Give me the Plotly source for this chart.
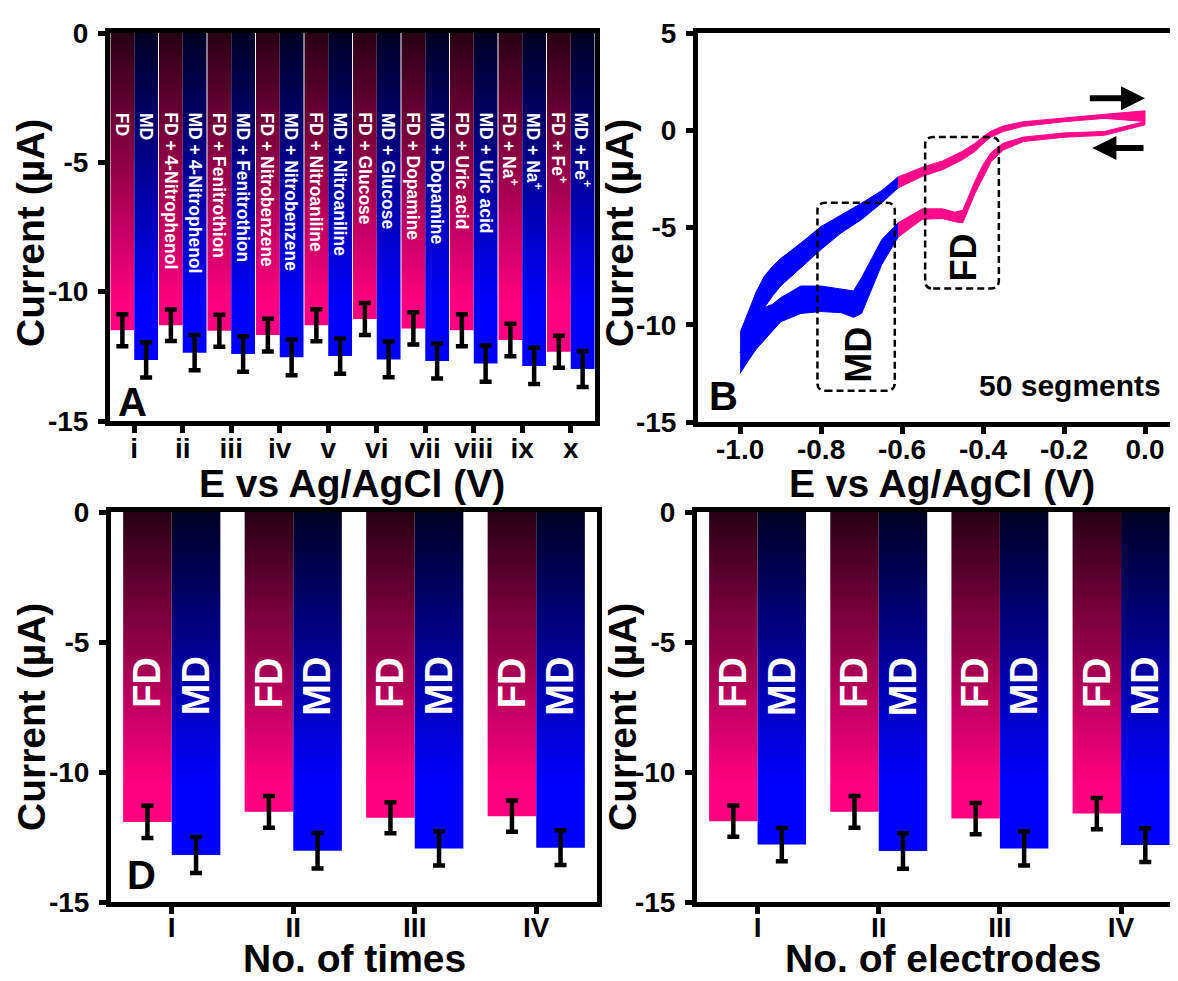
import plotly.graph_objects as go

# page body has an 8px margin, so the figure is 8px smaller on each axis and all
# reference pixel positions are shifted by 8px
OFF = 8
W, H = 1178 - OFF, 981 - OFF

# ---------------- Panel A : interference study ----------------
cats_A = ["i", "ii", "iii", "iv", "v", "vi", "vii", "viii", "ix", "x"]
fd_A = [-11.49, -11.30, -11.51, -11.68, -11.30, -11.06, -11.42, -11.49, -11.87, -12.32]
md_A = [-12.64, -12.36, -12.41, -12.54, -12.49, -12.62, -12.68, -12.78, -12.87, -12.99]
fd_A_err = [0.62, 0.61, 0.62, 0.63, 0.62, 0.62, 0.62, 0.62, 0.63, 0.62]
md_A_err = [0.68, 0.68, 0.69, 0.69, 0.68, 0.69, 0.68, 0.70, 0.70, 0.70]
fd_A_text = ["FD", "FD + 4-Nitrophenol", "FD + Fenitrothion", "FD + Nitrobenzene",
             "FD + Nitroaniline", "FD + Glucose", "FD + Dopamine", "FD + Uric acid",
             "FD + Na<sup>+</sup>", "FD + Fe<sup>+</sup>"]
md_A_text = ["MD", "MD + 4-Nitrophenol", "MD + Fenitrothion", "MD + Nitrobenzene",
             "MD + Nitroaniline", "MD + Glucose", "MD + Dopamine", "MD + Uric acid",
             "MD + Na<sup>+</sup>", "MD + Fe<sup>+</sup>"]

# ---------------- Panel B : CV, 50 segments (envelopes of the band) ----------------
E_an = [-1.00, -0.98, -0.96, -0.94, -0.92, -0.90, -0.85, -0.80, -0.75, -0.70, -0.65, -0.61,
        -0.55, -0.50, -0.45, -0.42, -0.40, -0.38, -0.35, -0.30, -0.20, -0.10, 0.00]
an_outer = [-10.40, -9.30, -8.30, -7.50, -7.00, -6.60, -5.80, -4.95, -4.35, -3.75, -3.10, -2.40,
            -1.90, -1.58, -1.07, -0.67, -0.33, -0.04, 0.22, 0.44, 0.64, 0.82, 1.00]
an_inner = [-11.43, -10.74, -10.06, -9.12, -8.52, -8.01, -7.07, -6.13, -5.27, -4.59, -3.73, -2.97,
            -2.37, -2.03, -1.51, -1.09, -0.69, -0.35, -0.06, 0.20, 0.44, 0.61, 0.45]
E_ca = [-1.00, -0.98, -0.96, -0.94, -0.92, -0.90, -0.85, -0.80, -0.75, -0.72, -0.70, -0.65, -0.61,
        -0.55, -0.50, -0.47, -0.45, -0.42, -0.40, -0.38, -0.35, -0.30, -0.20, -0.10, 0.00]
ca_upper = [-11.43, -10.74, -10.06, -9.12, -8.95, -8.61, -8.01, -8.01, -8.18, -8.26, -7.58, -5.62, -4.76,
            -4.04, -4.04, -4.21, -4.11, -2.62, -1.77, -1.14, -0.66, -0.35, -0.14, -0.06, 0.45]
ca_lower = [-12.50, -11.85, -11.25, -10.75, -10.30, -9.85, -9.42, -9.32, -9.38, -9.62, -9.42, -6.90, -5.50,
            -4.58, -4.54, -4.70, -4.76, -3.25, -2.40, -1.62, -1.02, -0.58, -0.36, -0.26, 0.28]
E_split = -0.61  # colour change MD (blue) / FD (pink)

# ---------------- Panel D : repeatability (No. of times) ----------------
cats_D = ["I", "II", "III", "IV"]
fd_D = [-11.92, -11.53, -11.76, -11.70]
md_D = [-13.19, -13.03, -12.94, -12.91]
fd_D_err = [0.62, 0.61, 0.60, 0.60]
md_D_err = [0.69, 0.68, 0.66, 0.67]

# ---------------- Panel C : reproducibility (No. of electrodes) ----------------
cats_C = ["I", "II", "III", "IV"]
fd_C = [-11.89, -11.53, -11.79, -11.60]
md_C = [-12.79, -13.04, -12.94, -12.81]
fd_C_err = [0.60, 0.61, 0.60, 0.60]
md_C_err = [0.64, 0.68, 0.66, 0.65]

FONT = "Liberation Sans, Arial, sans-serif"
PINK = "rgb(255,0,128)"
BLUE = "rgb(0,0,255)"
FD_SCALE = [[0, PINK], [0.13, PINK], [1, "rgb(40,0,18)"]]
MD_SCALE = [[0, BLUE], [0.13, BLUE], [1, "rgb(0,0,35)"]]
CV_PINK = "#ff0a8a"


def px(x):
    return (x - OFF) / W


def py(y):
    return 1 - (y - OFF) / H


fig = go.Figure()


def add_bars(vals, errs, offset, width, scale, xa, ya):
    xs, ys, cx = [], [], []
    for k, v in enumerate(vals):
        x0 = k + offset
        x1 = x0 + width
        xs += [x0, x0, x1, x1, x0, None]
        ys += [0, v, v, 0, 0, None]
        cx.append((x0 + x1) / 2)
    fig.add_trace(go.Scatter(
        x=xs, y=ys, mode="lines", fill="toself",
        line=dict(width=0, color="rgba(0,0,0,0)"),
        fillgradient=dict(type="vertical", colorscale=scale, start=-12, stop=0),
        xaxis=xa, yaxis=ya, hoverinfo="skip", showlegend=False))
    fig.add_trace(go.Scatter(
        x=cx, y=vals, mode="markers", marker=dict(size=1, color="rgba(0,0,0,0)"),
        error_y=dict(type="data", array=errs, symmetric=True, color="black",
                     thickness=4.5, width=6),
        xaxis=xa, yaxis=ya, showlegend=False))
    return cx


cxA_fd = add_bars(fd_A, fd_A_err, -0.49, 0.49, FD_SCALE, "x", "y")
cxA_md = add_bars(md_A, md_A_err, 0.0, 0.49, MD_SCALE, "x", "y")
cxD_fd = add_bars(fd_D, fd_D_err, -0.40, 0.40, FD_SCALE, "x3", "y3")
cxD_md = add_bars(md_D, md_D_err, 0.0, 0.40, MD_SCALE, "x3", "y3")
cxC_fd = add_bars(fd_C, fd_C_err, -0.40, 0.40, FD_SCALE, "x4", "y4")
cxC_md = add_bars(md_C, md_C_err, 0.0, 0.40, MD_SCALE, "x4", "y4")


def band(E, top, bot, blue_part):
    idx = [i for i, e in enumerate(E) if (e <= E_split + 1e-9 if blue_part else e >= E_split - 1e-9)]
    xs = [E[i] for i in idx] + [E[i] for i in reversed(idx)]
    ys = [top[i] for i in idx] + [bot[i] for i in reversed(idx)]
    col = BLUE if blue_part else CV_PINK
    fig.add_trace(go.Scatter(x=xs, y=ys, mode="lines", fill="toself", fillcolor=col,
                             line=dict(width=1, color=col), xaxis="x2", yaxis="y2",
                             hoverinfo="skip", showlegend=False))


band(E_an, an_outer, an_inner, True)
band(E_an, an_outer, an_inner, False)
band(E_ca, ca_upper, ca_lower, True)
band(E_ca, ca_upper, ca_lower, False)

# ---------------- Layout ----------------
tickfont = dict(family=FONT, size=28, color="black", weight="bold")
base = dict(showline=True, linewidth=5, linecolor="black", ticks="outside", ticklen=7,
            tickwidth=4.5, tickcolor="black", tickfont=tickfont, showgrid=False,
            zeroline=False, fixedrange=True, automargin=False)

ybar_ticks = dict(tickmode="array", tickvals=[0, -5, -10, -15], ticktext=["0", "-5", "-10", "-15"])
XSO = -9
XSO_BOTTOM = -11

fig.update_layout(
    template="none",
    width=W, height=H, margin=dict(l=0, r=0, t=0, b=0, pad=0, autoexpand=False),
    paper_bgcolor="white", plot_bgcolor="white", showlegend=False,
    font=dict(family=FONT, color="black"),
    xaxis=dict(base, domain=[px(110), px(595)], range=[-0.5, 9.5], mirror=True,
               tickmode="array", tickvals=list(range(len(cats_A))), ticktext=cats_A,
               anchor="y", ticklabelstandoff=XSO),
    yaxis=dict(base, domain=[py(421), py(33)], range=[-15, 0], mirror=True, anchor="x",
               ticklabelstandoff=4, **ybar_ticks),
    xaxis2=dict(base, domain=[px(698), 1.0], range=[-1.104, 0.0815], mirror=True, anchor="y2",
                tickmode="array", tickvals=[-1.0, -0.8, -0.6, -0.4, -0.2, 0.0],
                ticktext=["-1.0", "-0.8", "-0.6", "-0.4", "-0.2", "0.0"], ticklabelstandoff=XSO),
    yaxis2=dict(base, domain=[py(422), py(33)], range=[-15, 5], mirror=False, anchor="x2",
                tickmode="array", tickvals=[5, 0, -5, -10, -15],
                ticktext=["5", "0", "-5", "-10", "-15"], ticklabelstandoff=4),
    xaxis3=dict(base, domain=[px(111), px(597)], range=[-0.5, 3.5], mirror=True, anchor="y3",
                tickmode="array", tickvals=list(range(len(cats_D))), ticktext=cats_D,
                ticklabelstandoff=XSO_BOTTOM),
    yaxis3=dict(base, domain=[py(902), py(512)], range=[-15, 0], mirror=True, anchor="x3",
                ticklabelstandoff=4, **ybar_ticks),
    xaxis4=dict(base, domain=[px(697), 1.0], range=[-0.5, 3.47], mirror=True, anchor="y4",
                tickmode="array", tickvals=list(range(len(cats_C))), ticktext=cats_C,
                ticklabelstandoff=XSO_BOTTOM),
    yaxis4=dict(base, domain=[py(902), py(512)], range=[-15, 0], mirror=False, anchor="x4",
                ticklabelstandoff=4, **ybar_ticks),
)

ann = []
white_small = dict(family=FONT, size=17.5, color="white", weight="bold")
for k in range(len(cats_A)):
    ann.append(dict(x=cxA_fd[k], y=-3.0, xref="x", yref="y", text=fd_A_text[k], showarrow=False,
                    textangle=90, xanchor="center", yanchor="top", font=white_small))
    ann.append(dict(x=cxA_md[k], y=-3.0, xref="x", yref="y", text=md_A_text[k], showarrow=False,
                    textangle=90, xanchor="center", yanchor="top", font=white_small))

white_big = dict(family=FONT, size=38, color="white", weight="bold")
for cxf, cxm, xr, yr in [(cxD_fd, cxD_md, "x3", "y3"), (cxC_fd, cxC_md, "x4", "y4")]:
    for k in range(4):
        ann.append(dict(x=cxf[k], y=-6.55, xref=xr, yref=yr, text="FD", showarrow=False,
                        textangle=-90, xanchor="center", yanchor="middle", font=white_big))
        ann.append(dict(x=cxm[k], y=-6.7, xref=xr, yref=yr, text="MD", showarrow=False,
                        textangle=-90, xanchor="center", yanchor="middle", font=white_big))

black_mid = dict(family=FONT, size=36, color="black", weight="bold")
ann.append(dict(x=-0.707, y=-11.55, xref="x2", yref="y2", text="MD", showarrow=False,
                textangle=-90, xanchor="center", yanchor="middle", font=black_mid))
ann.append(dict(x=-0.448, y=-6.56, xref="x2", yref="y2", text="FD", showarrow=False,
                textangle=-90, xanchor="center", yanchor="middle", font=black_mid))
ann.append(dict(x=-0.186, y=-13.1, xref="x2", yref="y2", text="50 segments", showarrow=False,
                xanchor="center", yanchor="middle",
                font=dict(family=FONT, size=30, color="black", weight="bold")))
# scan direction arrows
ann.append(dict(x=0.0, y=1.65, ax=-0.14, ay=1.65, xref="x2", yref="y2", axref="x2", ayref="y2",
                text="", showarrow=True, arrowhead=2, arrowsize=0.8, arrowwidth=6,
                arrowcolor="black", standoff=0))
ann.append(dict(x=-0.13, y=-0.91, ax=0.0, ay=-0.91, xref="x2", yref="y2", axref="x2", ayref="y2",
                text="", showarrow=True, arrowhead=2, arrowsize=0.8, arrowwidth=6,
                arrowcolor="black", standoff=0))

title_font = dict(family=FONT, size=39, color="black", weight="bold")
titles = [
    ("Current (µA)", 31, 233, -90), ("E vs Ag/AgCl (V)", 352, 483, 0),
    ("Current (µA)", 620, 233, -90), ("E vs Ag/AgCl (V)", 942, 483, 0),
    ("Current (µA)", 31, 717, -90), ("No. of times", 354, 958, 0),
    ("Current (µA)", 622, 717, -90), ("No. of electrodes", 943, 958, 0),
]
for t, x, y, a in titles:
    ann.append(dict(x=px(x), y=py(y), xref="paper", yref="paper", text=t, showarrow=False,
                    textangle=a, xanchor="center", yanchor="middle", font=title_font))

letter_font = dict(family=FONT, size=40, color="black", weight="bold")
for t, x, y in [("A", 132, 402), ("B", 723, 396), ("D", 141, 875)]:
    ann.append(dict(x=px(x), y=py(y), xref="paper", yref="paper", text=t, showarrow=False,
                    xanchor="center", yanchor="middle", font=letter_font))

fig.update_layout(annotations=ann)


def rounded(x0, x1, y0, y1, rx=0.02, ry=0.4):
    return (f"M {x0 + rx},{y0} L {x1 - rx},{y0} Q {x1},{y0} {x1},{y0 + ry} "
            f"L {x1},{y1 - ry} Q {x1},{y1} {x1 - rx},{y1} L {x0 + rx},{y1} "
            f"Q {x0},{y1} {x0},{y1 - ry} L {x0},{y0 + ry} Q {x0},{y0} {x0 + rx},{y0} Z")


for (x0, x1, y0, y1) in [(-0.809, -0.618, -13.39, -3.73), (-0.543, -0.361, -8.14, -0.35)]:
    fig.add_shape(type="path", path=rounded(x0, x1, y0, y1), xref="x2", yref="y2",
                  line=dict(color="black", width=2.5, dash="7px,4px"))

fig.write_html("out.html")
